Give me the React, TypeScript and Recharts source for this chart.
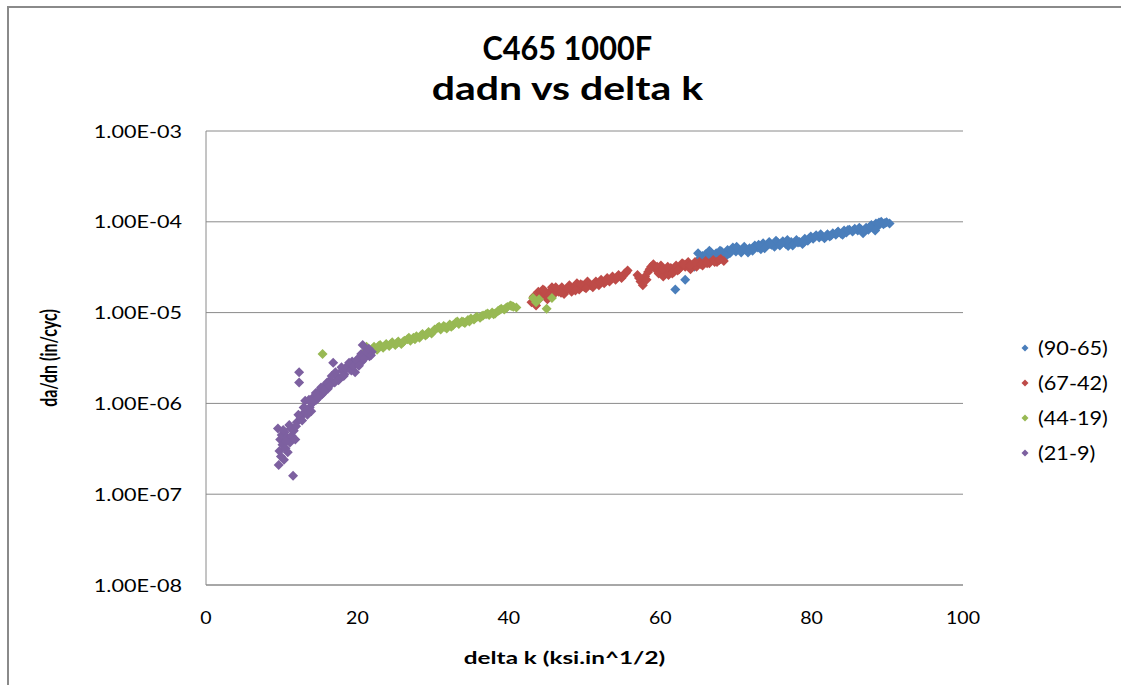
import React from "react";
import { ScatterChart, Scatter, XAxis, YAxis, CartesianGrid, Label } from "recharts";

// delta k (ksi.in^1/2), da/dn (in/cyc)
const run90to65: [number, number][] = [
  [62.0, 1.8e-5], [63.3, 2.3e-5], [64.5, 3.2e-5], [64.8, 3.6e-5], [65.2, 3.9e-5],
  [65.6, 4.2e-5], [66.0, 4.4e-5], [66.3, 4.0e-5], [66.7, 4.6e-5], [67.0, 4.3e-5],
  [67.4, 4.5e-5], [67.8, 4.1e-5], [68.1, 4.7e-5], [68.5, 4.4e-5], [68.9, 4.9e-5],
  [69.2, 4.5e-5], [69.6, 5.2e-5], [70.0, 4.7e-5], [70.3, 5.0e-5], [70.7, 4.6e-5],
  [71.1, 5.3e-5], [71.4, 4.9e-5], [71.8, 5.1e-5], [72.2, 4.8e-5], [72.5, 5.5e-5],
  [72.9, 5.2e-5], [73.3, 5.0e-5], [73.6, 5.8e-5], [74.0, 5.4e-5], [74.4, 6.0e-5],
  [74.7, 5.6e-5], [75.1, 5.3e-5], [75.5, 5.9e-5], [75.8, 5.5e-5], [76.2, 6.1e-5],
  [76.6, 5.7e-5], [76.9, 5.4e-5], [77.3, 6.0e-5], [77.7, 5.8e-5], [78.0, 6.3e-5],
  [78.4, 6.0e-5], [78.8, 5.7e-5], [79.1, 6.5e-5], [79.5, 6.2e-5], [79.9, 6.9e-5],
  [80.2, 6.5e-5], [80.6, 7.1e-5], [81.0, 6.7e-5], [81.3, 7.0e-5], [81.7, 6.6e-5],
  [82.1, 7.3e-5], [82.4, 6.9e-5], [82.8, 7.5e-5], [83.2, 7.2e-5], [83.5, 7.8e-5],
  [83.9, 7.4e-5], [84.3, 8.0e-5], [84.6, 7.6e-5], [85.0, 8.2e-5], [85.4, 7.8e-5],
  [85.7, 8.4e-5], [86.1, 8.0e-5], [86.5, 8.3e-5], [86.8, 7.5e-5], [87.2, 8.6e-5],
  [87.5, 8.2e-5], [87.9, 9.2e-5], [88.2, 8.5e-5], [88.5, 9.6e-5], [88.8, 9.0e-5],
  [89.2, 1.0e-4], [89.5, 9.4e-5], [89.9, 9.9e-5], [90.3, 9.6e-5],
  [65.0, 4.5e-5], [65.8, 3.8e-5], [66.5, 4.8e-5], [67.2, 4.0e-5], [67.9, 4.8e-5],
  [68.7, 4.2e-5], [69.4, 4.8e-5], [70.1, 5.3e-5], [70.9, 4.9e-5], [71.6, 4.6e-5],
  [72.3, 5.2e-5], [73.0, 5.6e-5], [73.8, 5.1e-5], [74.5, 5.7e-5], [75.3, 6.2e-5],
  [76.0, 5.8e-5], [76.8, 6.3e-5], [77.5, 5.5e-5], [78.2, 5.9e-5], [79.0, 6.0e-5],
  [79.7, 6.6e-5], [80.4, 6.8e-5], [81.2, 7.3e-5], [81.9, 6.9e-5], [82.6, 7.1e-5],
  [83.4, 7.6e-5], [84.1, 7.2e-5], [84.8, 8.1e-5], [85.5, 8.0e-5], [86.3, 8.6e-5],
  [87.0, 8.1e-5], [87.7, 8.8e-5], [88.4, 8.0e-5], [88.9, 9.8e-5], [89.7, 9.7e-5],
];

const run67to42: [number, number][] = [
  [43.0, 1.3e-5], [43.3, 1.5e-5], [43.6, 1.2e-5], [43.9, 1.7e-5], [44.2, 1.5e-5],
  [44.5, 1.8e-5], [44.8, 1.6e-5], [45.1, 1.4e-5], [45.4, 1.7e-5], [45.7, 1.9e-5],
  [46.0, 1.6e-5], [46.3, 1.8e-5], [46.6, 1.7e-5], [47.0, 1.9e-5], [47.3, 1.6e-5],
  [47.6, 1.8e-5], [48.0, 2.0e-5], [48.3, 1.7e-5], [48.6, 1.9e-5], [49.0, 2.1e-5],
  [49.3, 1.8e-5], [49.7, 2.0e-5], [50.0, 1.9e-5], [50.4, 2.2e-5], [50.8, 2.0e-5],
  [51.1, 1.9e-5], [51.5, 2.2e-5], [51.9, 2.0e-5], [52.2, 2.3e-5], [52.6, 2.1e-5],
  [53.0, 2.4e-5], [53.3, 2.2e-5], [53.7, 2.5e-5], [54.1, 2.3e-5], [54.5, 2.6e-5],
  [54.9, 2.4e-5], [55.3, 2.7e-5], [55.7, 2.9e-5], [57.0, 2.6e-5], [57.4, 2.2e-5],
  [57.7, 2.0e-5], [58.0, 2.5e-5], [58.4, 2.8e-5], [58.8, 3.2e-5], [59.1, 3.4e-5],
  [59.4, 3.0e-5], [59.8, 2.7e-5], [60.1, 3.3e-5], [60.4, 2.5e-5], [60.8, 2.9e-5],
  [61.1, 2.6e-5], [61.4, 3.1e-5], [61.8, 2.8e-5], [62.1, 3.3e-5], [62.5, 3.0e-5],
  [62.9, 3.5e-5], [63.3, 3.2e-5], [63.7, 3.6e-5], [64.0, 3.0e-5], [64.4, 3.4e-5],
  [64.8, 3.2e-5], [65.2, 3.6e-5], [65.6, 3.3e-5], [66.0, 3.7e-5], [66.5, 3.5e-5],
  [67.0, 3.8e-5], [67.5, 3.6e-5], [68.0, 3.9e-5], [68.4, 3.7e-5],
  [44.0, 1.4e-5], [44.7, 1.75e-5], [45.3, 1.55e-5], [46.2, 1.9e-5], [46.9, 1.65e-5],
  [47.8, 1.85e-5], [48.8, 1.75e-5], [49.5, 2.05e-5], [50.2, 1.85e-5], [51.3, 2.05e-5],
  [52.0, 2.15e-5], [52.9, 2.25e-5], [53.5, 2.35e-5], [54.3, 2.45e-5], [55.1, 2.55e-5],
  [55.5, 2.75e-5], [57.2, 2.4e-5], [58.2, 2.3e-5], [58.6, 3.0e-5], [59.6, 3.2e-5],
  [60.3, 3.0e-5], [61.0, 3.2e-5], [61.6, 2.7e-5], [62.3, 2.9e-5], [63.1, 3.4e-5],
  [63.9, 3.3e-5], [64.6, 3.6e-5], [65.4, 3.4e-5], [66.2, 3.5e-5], [67.2, 3.6e-5],
  [67.8, 3.8e-5],
];

const run44to19: [number, number][] = [
  [15.4, 3.5e-6], [21.0, 3.7e-6], [21.4, 4.0e-6], [21.8, 3.8e-6], [22.2, 4.2e-6],
  [22.6, 3.9e-6], [23.0, 4.4e-6], [23.4, 4.1e-6], [23.8, 4.5e-6], [24.2, 4.3e-6],
  [24.6, 4.7e-6], [25.0, 4.4e-6], [25.4, 4.8e-6], [25.8, 4.5e-6], [26.2, 4.9e-6],
  [26.6, 5.1e-6], [27.0, 4.9e-6], [27.4, 5.3e-6], [27.8, 5.5e-6], [28.2, 5.3e-6],
  [28.6, 5.8e-6], [29.0, 5.6e-6], [29.4, 6.1e-6], [29.8, 5.9e-6], [30.2, 6.5e-6],
  [30.6, 6.8e-6], [31.0, 6.5e-6], [31.4, 7.1e-6], [31.8, 6.7e-6], [32.2, 7.4e-6],
  [32.6, 7.2e-6], [33.0, 7.8e-6], [33.4, 7.5e-6], [33.8, 8.0e-6], [34.2, 7.7e-6],
  [34.6, 8.3e-6], [35.0, 8.6e-6], [35.4, 8.4e-6], [35.8, 9.0e-6], [36.2, 8.8e-6],
  [36.6, 9.3e-6], [37.0, 9.6e-6], [37.4, 9.4e-6], [37.8, 1.0e-5], [38.2, 9.8e-6],
  [38.6, 1.05e-5], [39.0, 1.1e-5], [39.4, 1.08e-5], [39.8, 1.15e-5], [40.2, 1.2e-5],
  [40.6, 1.16e-5], [41.0, 1.14e-5], [43.2, 1.45e-5], [43.6, 1.3e-5], [44.0, 1.4e-5],
  [45.0, 1.1e-5], [45.7, 1.45e-5],
  [21.2, 4.2e-6], [22.0, 4.0e-6], [22.8, 4.3e-6], [23.6, 4.3e-6], [24.4, 4.5e-6],
  [25.2, 4.6e-6], [26.0, 4.7e-6], [26.8, 5.3e-6], [27.6, 5.1e-6], [28.4, 5.6e-6],
  [29.2, 5.8e-6], [30.0, 6.2e-6], [30.8, 7.0e-6], [31.6, 6.9e-6], [32.4, 7.0e-6],
  [33.2, 8.0e-6], [34.0, 7.9e-6], [34.8, 8.0e-6], [35.6, 8.8e-6], [36.4, 9.1e-6],
  [37.2, 9.8e-6], [38.0, 9.6e-6], [38.8, 1.07e-5], [39.6, 1.12e-5], [40.4, 1.18e-5],
];

const run21to9: [number, number][] = [
  [9.5, 5.3e-7], [9.6, 2.1e-7], [9.7, 3.0e-7], [9.8, 4.0e-7], [9.9, 2.6e-7],
  [10.0, 4.5e-7], [10.1, 3.5e-7], [10.3, 2.4e-7], [10.4, 4.8e-7], [10.5, 3.2e-7],
  [10.7, 4.2e-7], [10.8, 2.9e-7], [11.0, 5.8e-7], [11.1, 3.7e-7], [11.3, 4.4e-7],
  [11.5, 1.6e-7], [11.6, 5.0e-7], [11.8, 4.0e-7], [12.0, 6.2e-7], [12.3, 2.2e-6],
  [12.3, 1.7e-6], [12.5, 7.1e-7], [12.7, 6.5e-7], [13.0, 8.0e-7], [13.1, 1.07e-6],
  [13.4, 7.5e-7], [13.7, 9.0e-7], [14.0, 1.0e-6], [14.3, 1.2e-6], [14.6, 1.1e-6],
  [15.0, 1.4e-6], [15.3, 1.25e-6], [15.5, 1.3e-6], [15.8, 1.6e-6], [16.1, 1.45e-6],
  [16.4, 1.8e-6], [16.8, 2.8e-6], [17.0, 1.7e-6], [17.3, 2.0e-6], [17.7, 1.9e-6],
  [18.0, 2.3e-6], [18.3, 2.1e-6], [18.7, 2.6e-6], [19.0, 2.4e-6], [19.3, 2.9e-6],
  [19.7, 2.2e-6], [20.0, 2.7e-6], [20.3, 3.2e-6], [20.6, 2.9e-6], [20.7, 4.4e-6],
  [21.0, 3.5e-6], [21.3, 3.9e-6], [21.6, 3.3e-6], [21.9, 3.7e-6],
  [10.2, 5.1e-7], [10.6, 3.8e-7], [11.2, 5.3e-7], [11.9, 5.6e-7], [12.2, 7.5e-7],
  [12.9, 9.0e-7], [13.3, 8.5e-7], [13.6, 1.1e-6], [13.9, 8.2e-7], [14.2, 1.05e-6],
  [14.5, 1.3e-6], [14.8, 1.15e-6], [15.2, 1.5e-6], [15.6, 1.4e-6], [16.0, 1.7e-6],
  [16.3, 1.55e-6], [16.6, 2.0e-6], [17.1, 2.2e-6], [17.5, 1.8e-6], [17.9, 2.5e-6],
  [18.2, 2.0e-6], [18.5, 2.4e-6], [18.9, 2.8e-6], [19.2, 2.3e-6], [19.5, 2.6e-6],
  [19.9, 3.0e-6], [20.2, 2.6e-6], [20.5, 3.5e-6], [20.9, 3.1e-6], [21.2, 3.7e-6],
  [21.5, 4.0e-6], [21.8, 3.4e-6],
];

const seriesNames = ["(90-65)", "(67-42)", "(44-19)", "(21-9)"];
const seriesColors = ["#4A7EBB", "#BE4B48", "#98B954", "#7D60A0"];
const xTicks = [0, 20, 40, 60, 80, 100];
const yTicks = [1e-8, 1e-7, 1e-6, 1e-5, 1e-4, 1e-3];

const allRuns = [run90to65, run67to42, run44to19, run21to9];

const FONT = "Lato, 'Open Sans', sans-serif";

const fmtExp = (v: number) => {
  const e = Math.round(Math.log10(v));
  return `1.00E${e < 0 ? "-" : "+"}${String(Math.abs(e)).padStart(2, "0")}`;
};

const diamond = (color: string) => (props: any) => {
  const { cx, cy } = props;
  if (cx == null || cy == null) return <g />;
  const r = 5;
  return (
    <path
      d={`M${cx},${cy - r}L${cx + r},${cy}L${cx},${cy + r}L${cx - r},${cy}Z`}
      fill={color}
    />
  );
};

const YTick = ({ x, y, payload }: any) => (
  <text
    transform={`translate(${x},${y}) scale(1.27,1)`}
    textAnchor="end"
    dominantBaseline="central"
    fontFamily={FONT}
    fontSize={17}
    fill="#000"
  >
    {fmtExp(payload.value)}
  </text>
);

const XTick = ({ x, y, payload }: any) => (
  <text
    transform={`translate(${x},${y}) scale(1.15,1)`}
    textAnchor="middle"
    dominantBaseline="central"
    fontFamily={FONT}
    fontSize={17}
    fill="#000"
  >
    {payload.value}
  </text>
);

const XTitle = ({ viewBox }: any) => (
  <text
    transform={`translate(${viewBox.x + viewBox.width / 2 - 20},${viewBox.y + 72}) scale(1.43,1)`}
    textAnchor="middle"
    dominantBaseline="central"
    fontFamily={FONT}
    fontWeight={700}
    fontSize={17}
    fill="#000"
  >
    delta k (ksi.in^1/2)
  </text>
);

const YTitle = ({ viewBox }: any) => (
  <text
    transform={`translate(39,${viewBox.y + viewBox.height / 2}) rotate(-90) scale(1,1.45)`}
    textAnchor="middle"
    dominantBaseline="central"
    fontFamily={FONT}
    fontWeight={700}
    fontSize={16}
    fill="#000"
  >
    da/dn (in/cyc)
  </text>
);

export default function App() {
  return (
    <div
      style={{
        position: "absolute",
        left: 7,
        top: 6,
        width: 1120,
        height: 690,
        borderTop: "2px solid #8a8a8a",
        borderLeft: "2px solid #8a8a8a",
        background: "#fff",
        fontFamily: FONT,
      }}
    >
      <div
        style={{
          position: "absolute",
          left: 0,
          top: 19,
          width: 1116,
          textAlign: "center",
          fontWeight: 700,
          fontSize: 33,
          lineHeight: "40px",
          color: "#000",
        }}
      >
        <div>
          <span style={{ display: "inline-block", transform: "scaleX(0.93)" }}>C465 1000F</span>
        </div>
        <div>
          <span style={{ display: "inline-block", transform: "scaleX(1.24)" }}>dadn vs delta k</span>
        </div>
      </div>

      <ScatterChart
        width={1112}
        height={677}
        margin={{ top: 123, right: 158, bottom: 40, left: 0 }}
      >
        <CartesianGrid vertical={false} stroke="#8a8a8a" strokeWidth={1} />
        <XAxis
          type="number"
          dataKey="k"
          domain={[0, 100]}
          ticks={xTicks}
          tickLine={false}
          tickSize={0}
          tickMargin={33}
          height={60}
          stroke="#8a8a8a"
          tick={<XTick />}
        >
          <Label content={<XTitle />} />
        </XAxis>
        <YAxis
          type="number"
          dataKey="dadn"
          scale="log"
          domain={[1e-8, 1e-3]}
          allowDataOverflow
          ticks={yTicks}
          tickLine={false}
          tickSize={0}
          tickMargin={24}
          width={197}
          stroke="#8a8a8a"
          tick={<YTick />}
        >
          <Label content={<YTitle />} />
        </YAxis>
        {allRuns.map((run, i) => (
          <Scatter
            key={seriesNames[i]}
            name={seriesNames[i]}
            data={run.map(([k, dadn]) => ({ k, dadn }))}
            fill={seriesColors[i]}
            shape={diamond(seriesColors[i])}
            isAnimationActive={false}
          />
        ))}
      </ScatterChart>

      <div style={{ position: "absolute", left: 1009, top: 322 }}>
        {seriesNames.map((name, i) => (
          <div
            key={name}
            style={{ display: "flex", alignItems: "center", height: 35 }}
          >
            <svg width={14} height={14}>
              <path d="M7,3.5L10.5,7L7,10.5L3.5,7Z" fill={seriesColors[i]} />
            </svg>
            <span
              style={{
                marginLeft: 6,
                fontSize: 19,
                color: "#000",
                display: "inline-block",
                transform: "scaleX(1.14)",
                transformOrigin: "left center",
              }}
            >
              {name}
            </span>
          </div>
        ))}
      </div>
    </div>
  );
}
